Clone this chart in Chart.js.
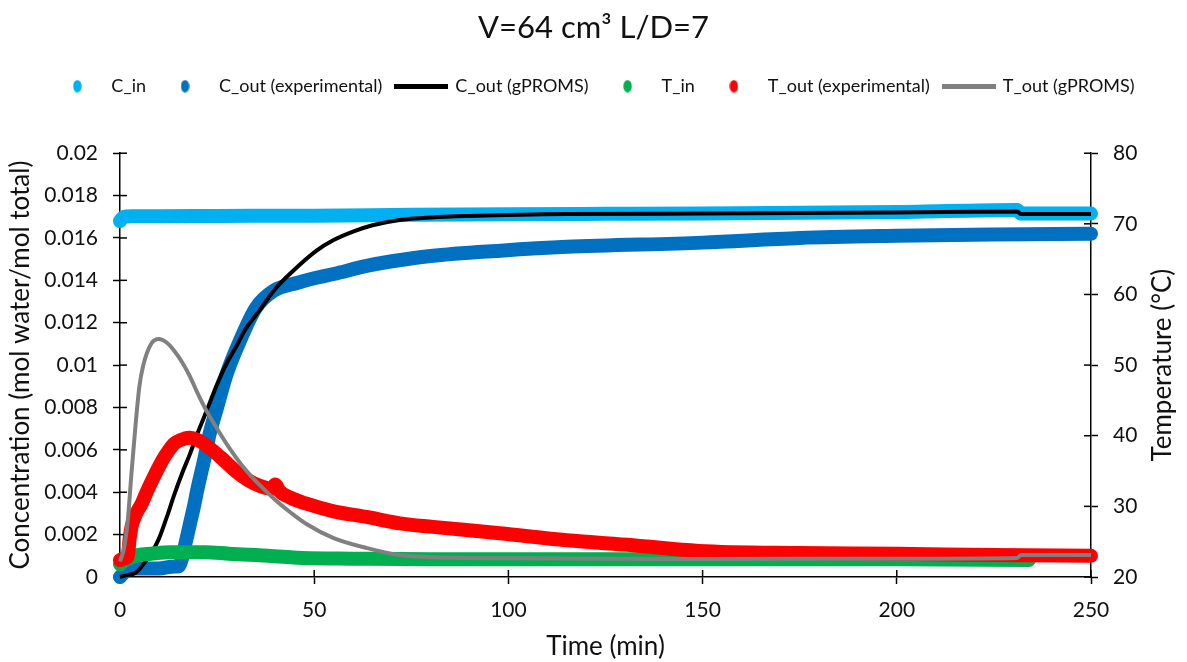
<!DOCTYPE html>
<html>
<head>
<meta charset="utf-8">
<script src="https://cdn.jsdelivr.net/npm/chart.js@4/dist/chart.umd.min.js"></script>
<style>
  html, body { margin: 0; padding: 0; background: #fff; }
  #wrap { width: 1187px; height: 662px; }
</style>
</head>
<body>
<div id="wrap"><canvas id="dryerChart"></canvas></div>
<script>
// C_in (experimental, mol water / mol total)
const cInTime   = [0, 1, 3, 10, 25, 50, 75, 100, 125, 150, 175, 200, 231, 232, 250];
const cInValues = [0.0168, 0.0170, 0.01703, 0.01703, 0.01704, 0.01705, 0.01709, 0.01712, 0.01714, 0.01716, 0.01719, 0.01722, 0.01732, 0.01715, 0.01715];

// C_out (experimental)
const cOutTime   = [0, 1, 2, 5, 10, 14, 15, 16, 17, 18, 19, 20, 21, 22, 23, 25, 27.5, 31, 35, 39.5, 46, 50, 55, 63.5, 70, 80, 98, 115, 150, 175, 200, 225, 250];
const cOutValues = [0, 0.0002, 0.0004, 0.0004, 0.0004, 0.0005, 0.0005, 0.0009, 0.0017, 0.0025, 0.0033, 0.0042, 0.0050, 0.0058, 0.0067, 0.0080, 0.0096, 0.0112, 0.0127, 0.0135, 0.0139, 0.0141, 0.0143, 0.01468, 0.0149, 0.01515, 0.0154, 0.01558, 0.01578, 0.0160, 0.0161, 0.01616, 0.0162];

// C_out (gPROMS model)
const cModelTime   = [0, 2, 4, 6, 8, 10, 12, 14, 16, 18, 20, 22, 25, 27.5, 30, 32, 36, 40, 44.6, 50.6, 55, 60, 65, 72, 80, 90, 115, 150, 200, 231, 232, 250];
const cModelValues = [0, 0.0001, 0.0002, 0.0006, 0.0011, 0.0018, 0.0028, 0.0039, 0.0049, 0.0058, 0.0068, 0.0077, 0.0091, 0.0101, 0.0109, 0.0116, 0.0126, 0.0136, 0.01445, 0.0154, 0.0159, 0.0163, 0.0166, 0.01685, 0.01697, 0.01704, 0.01713, 0.01715, 0.0172, 0.01725, 0.01713, 0.01713];

// T_in (experimental, deg C)
const tInTime   = [0, 1.3, 4.6, 8, 13, 22, 28, 35, 47, 60, 80, 100, 150, 200, 234];
const tInValues = [21.8, 22.4, 23.1, 23.3, 23.5, 23.5, 23.3, 23.1, 22.7, 22.6, 22.5, 22.5, 22.5, 22.5, 22.4];

// T_out (experimental)
const tOutTime   = [0, 1, 2, 2.5, 3, 4, 5.6, 7, 9, 11, 12.4, 14, 16.7, 18, 20, 23, 26, 30, 33, 36, 39, 40, 41, 44, 47.6, 55, 63.5, 72, 80.6, 97.8, 115, 132, 149, 175, 200, 225, 250];
const tOutValues = [22.4, 22.6, 22.9, 25.5, 27.2, 28.8, 30.4, 32.2, 34.5, 36.6, 37.8, 38.9, 39.6, 39.7, 39.4, 38.3, 36.9, 34.9, 33.7, 32.9, 32.5, 33.1, 32.2, 31.2, 30.45, 29.3, 28.5, 27.6, 27.1, 26.2, 25.2, 24.5, 23.7, 23.4, 23.3, 23.1, 23.0];

// T_out (gPROMS model)
const tModelTime   = [0, 1, 2, 3, 4, 5, 6, 8, 10, 12, 14, 16, 18, 20, 22, 25, 28, 32, 36, 40, 44, 48, 55, 63.5, 72, 89, 150, 200, 231, 232, 250];
const tModelValues = [22.2, 24, 28, 35, 41.5, 47, 50, 53, 53.7, 53.2, 52, 50.4, 48.4, 46, 43.8, 41, 38.4, 35.4, 33, 30.9, 29.1, 27.5, 25.5, 24.1, 23.1, 22.7, 22.55, 22.6, 22.7, 23.1, 23.1];

const xTicks = [0, 50, 100, 150, 200, 250];

const FONT = 'Lato, "Open Sans", sans-serif';

function toPoints(xs, ys) {
    return xs.map((x, i) => ({ x: x, y: ys[i] }));
}

// little canvases used as legend symbols (oval marker or line)
function legendMark(color, isLine) {
    const c = document.createElement('canvas');
    const g = c.getContext('2d');
    if (isLine) {
        c.width = 54; c.height = 5;
        g.fillStyle = color;
        g.fillRect(0, 0, 54, 5);
    } else {
        c.width = 9; c.height = 13;
        g.fillStyle = color;
        g.beginPath();
        g.ellipse(4.5, 6.5, 4.2, 6.2, 0, 0, Math.PI * 2);
        g.fill();
    }
    return c;
}

function expSeries(label, xs, ys, color, axis, order) {
    return {
        label: label,
        data: toPoints(xs, ys),
        borderColor: color,
        backgroundColor: color,
        borderWidth: 14,
        borderCapStyle: 'round',
        borderJoinStyle: 'round',
        pointRadius: 0,
        cubicInterpolationMode: 'monotone',
        yAxisID: axis,
        clip: false,
        order: order,
        isLine: false
    };
}

function modelSeries(label, xs, ys, color, axis, order) {
    return {
        label: label,
        data: toPoints(xs, ys),
        borderColor: color,
        backgroundColor: color,
        borderWidth: 4,
        pointRadius: 0,
        cubicInterpolationMode: 'monotone',
        yAxisID: axis,
        clip: false,
        order: order,
        isLine: true
    };
}

// ticks that also reach into the plot, like the original axes
const innerTicks = {
    id: 'innerTicks',
    beforeDatasetsDraw(chart) {
        const ctx = chart.ctx;
        ctx.save();
        ctx.strokeStyle = '#000';
        ctx.lineWidth = 1.5;
        ['x', 'y', 'y2'].forEach(id => {
            const s = chart.scales[id];
            s.ticks.forEach(t => {
                const p = s.getPixelForValue(t.value);
                ctx.beginPath();
                if (id === 'x') { ctx.moveTo(p, s.top); ctx.lineTo(p, s.top - 7); }
                else if (id === 'y') { ctx.moveTo(s.right, p); ctx.lineTo(s.right + 7, p); }
                else { ctx.moveTo(s.left, p); ctx.lineTo(s.left - 7, p); }
                ctx.stroke();
            });
        });
        ctx.restore();
    }
};

// right axis title reads bottom-to-top in the original
const rightTitle = {
    id: 'rightTitle',
    afterDraw(chart) {
        const { ctx, chartArea } = chart;
        ctx.save();
        ctx.translate(chart.width - 24, (chartArea.top + chartArea.bottom) / 2);
        ctx.rotate(-Math.PI / 2);
        ctx.font = '26px ' + FONT;
        ctx.fillStyle = '#111';
        ctx.textAlign = 'center';
        ctx.textBaseline = 'middle';
        ctx.fillText('Temperature (°C)', 0, 0);
        ctx.restore();
    }
};

// extra room under the legend
const legendGap = {
    id: 'legendGap',
    beforeInit(chart) {
        if (!chart.legend) return;
        const fit = chart.legend.fit;
        chart.legend.fit = function () {
            fit.bind(chart.legend)();
            this.height += 48;
        };
    }
};

const ctx = document.getElementById('dryerChart').getContext('2d');
const chart = new Chart(ctx, {
    type: 'line',
    data: {
        datasets: [
            expSeries('C_in', cInTime, cInValues, '#00B0F0', 'y', 6),
            expSeries('C_out (experimental)', cOutTime, cOutValues, '#0070C0', 'y', 5),
            modelSeries('C_out (gPROMS)', cModelTime, cModelValues, '#000000', 'y', 4),
            expSeries('T_in', tInTime, tInValues, '#00B050', 'y2', 3),
            expSeries('T_out (experimental)', tOutTime, tOutValues, '#FF0000', 'y2', 2),
            modelSeries('T_out (gPROMS)', tModelTime, tModelValues, '#808080', 'y2', 1)
        ]
    },
    options: {
        responsive: true,
        maintainAspectRatio: false,
        animation: false,
        layout: { padding: 0 },
        plugins: {
            title: {
                display: true,
                text: 'V=64 cm³ L/D=7',
                color: '#111',
                font: { family: FONT, size: 31, weight: 'normal' },
                padding: { top: 9, bottom: 17 }
            },
            legend: {
                position: 'top',
                labels: {
                    usePointStyle: true,
                    pointStyleWidth: 50,
                    boxHeight: 12,
                    padding: 14,
                    color: '#111',
                    font: { family: FONT, size: 18 },
                    generateLabels(chart) {
                        return chart.data.datasets.map((ds, i) => ({
                            text: ds.label,
                            datasetIndex: i,
                            hidden: false,
                            fillStyle: ds.borderColor,
                            strokeStyle: ds.borderColor,
                            lineWidth: 0,
                            fontColor: '#111',
                            pointStyle: legendMark(ds.borderColor, ds.isLine)
                        }));
                    }
                }
            },
            tooltip: { enabled: false }
        },
        scales: {
            x: {
                type: 'linear',
                min: 0,
                max: 250,
                afterBuildTicks(scale) { scale.ticks = xTicks.map(v => ({ value: v })); },
                afterFit(scale) { scale.height = 85; },
                border: { color: '#000', width: 1.5 },
                grid: { drawOnChartArea: false, tickLength: 7, tickColor: '#000', tickWidth: 1.5 },
                ticks: { color: '#111', padding: 14, font: { family: FONT, size: 21 } },
                title: { display: true, text: 'Time (min)', color: '#111', font: { family: FONT, size: 26 }, padding: { top: 0, bottom: 0 } }
            },
            y: {
                position: 'left',
                min: 0,
                max: 0.02,
                afterFit(scale) { scale.width = 120; },
                border: { color: '#000', width: 1.5 },
                grid: { drawOnChartArea: false, tickLength: 7, tickColor: '#000', tickWidth: 1.5 },
                ticks: {
                    stepSize: 0.002,
                    color: '#111',
                    padding: 15,
                    font: { family: FONT, size: 21 },
                    callback: v => String(+v.toFixed(4))
                },
                title: { display: true, text: 'Concentration (mol water/mol total)', color: '#111', font: { family: FONT, size: 26 }, padding: { top: 5, bottom: 0 } }
            },
            y2: {
                position: 'right',
                min: 20,
                max: 80,
                afterFit(scale) { scale.width = 96; },
                border: { color: '#000', width: 1.5 },
                grid: { drawOnChartArea: false, tickLength: 7, tickColor: '#000', tickWidth: 1.5 },
                ticks: { stepSize: 10, color: '#111', padding: 15, font: { family: FONT, size: 21 } },
                title: { display: false }
            }
        }
    },
    plugins: [innerTicks, rightTitle, legendGap]
});
</script>
</body>
</html>
